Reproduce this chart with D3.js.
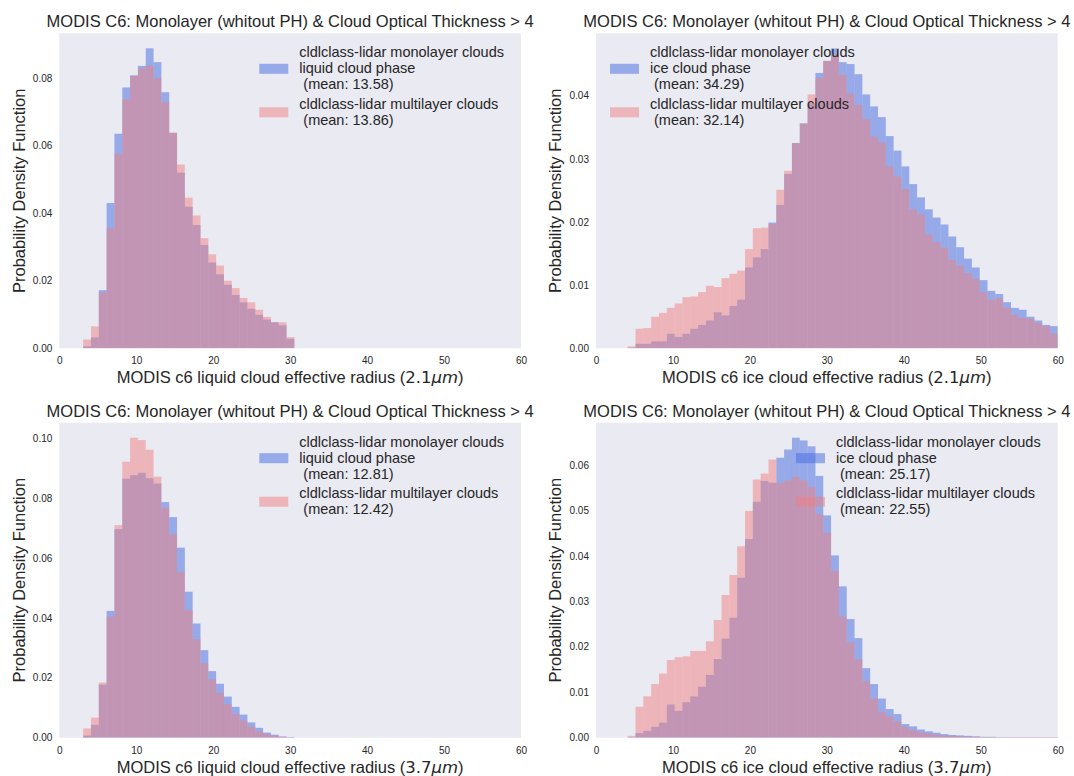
<!DOCTYPE html>
<html>
<head>
<meta charset="utf-8">
<script src="https://cdn.jsdelivr.net/npm/d3@7/dist/d3.min.js"></script>
<style>
  body { margin: 0; background: #fff; }
  svg { display: block; font-family: "Liberation Sans", Arial, sans-serif; }
  .legend text { white-space: pre; }
</style>
</head>
<body>
<div id="chart"></div>
<script>
// histograms of MODIS C6 effective radius, mono vs multilayer clouds

// bins (width ~1 µm)
const liquidBinStart = 3.1;
const iceBinStart = 4.12;
const binWidth = 1.0165;

// top-left : liquid, 2.1 µm
const liq21Mono = [0.0006, 0.0032, 0.0172, 0.0430, 0.0635, 0.0772, 0.0808, 0.0836, 0.0888, 0.0847,
  0.0758, 0.0637, 0.0520, 0.0419, 0.0365, 0.0306, 0.0254, 0.0219, 0.0188, 0.0158,
  0.0136, 0.0117, 0.0099, 0.0085, 0.0077, 0.0068, 0.0028];
const liq21Multi = [0.0026, 0.0065, 0.0165, 0.0355, 0.0576, 0.0737, 0.0806, 0.0828, 0.0837, 0.0800,
  0.0729, 0.0639, 0.0544, 0.0446, 0.0393, 0.0326, 0.0278, 0.0245, 0.0200, 0.0178,
  0.0149, 0.0136, 0.0114, 0.0093, 0.0077, 0.0077, 0.0033];

// top-right : ice, 2.1 µm
const ice21Mono = [0.0001, 0.0007, 0.0007, 0.0011, 0.0011, 0.0023, 0.0018, 0.0023, 0.0031, 0.0037,
  0.0044, 0.0057, 0.0052, 0.0067, 0.0077, 0.0128, 0.0144, 0.0157, 0.0199, 0.0227,
  0.0276, 0.0325, 0.0356, 0.0388, 0.0436, 0.0455, 0.0475, 0.0453, 0.0450, 0.0434,
  0.0402, 0.0383, 0.0366, 0.0336, 0.0313, 0.0288, 0.0260, 0.0239, 0.0220, 0.0207,
  0.0196, 0.0177, 0.0160, 0.0142, 0.0128, 0.0108, 0.0091, 0.0086, 0.0073, 0.0064,
  0.0061, 0.0050, 0.0044, 0.0037, 0.0035];
const ice21Multi = [0.0003, 0.0031, 0.0032, 0.0050, 0.0056, 0.0064, 0.0071, 0.0081, 0.0082, 0.0089,
  0.0099, 0.0097, 0.0111, 0.0118, 0.0123, 0.0157, 0.0190, 0.0191, 0.0197, 0.0251,
  0.0281, 0.0325, 0.0356, 0.0402, 0.0428, 0.0455, 0.0465, 0.0433, 0.0403, 0.0385,
  0.0363, 0.0335, 0.0326, 0.0288, 0.0272, 0.0252, 0.0220, 0.0212, 0.0180, 0.0168,
  0.0159, 0.0140, 0.0131, 0.0119, 0.0110, 0.0089, 0.0077, 0.0079, 0.0064, 0.0053,
  0.0048, 0.0047, 0.0040, 0.0035, 0.0024];

// bottom-left : liquid, 3.7 µm
const liq37Mono = [0.0007, 0.0043, 0.0177, 0.0423, 0.0696, 0.0864, 0.0876, 0.0884, 0.0866, 0.0848,
  0.0786, 0.0736, 0.0634, 0.0487, 0.0381, 0.0292, 0.0222, 0.0180, 0.0137, 0.0103,
  0.0077, 0.0051, 0.0033, 0.0017, 0.0010, 0.0004, 0.0002];
const liq37Multi = [0.0031, 0.0067, 0.0184, 0.0404, 0.0709, 0.0921, 0.1001, 0.0993, 0.0961, 0.0871,
  0.0768, 0.0679, 0.0552, 0.0426, 0.0329, 0.0248, 0.0194, 0.0150, 0.0112, 0.0079,
  0.0057, 0.0037, 0.0021, 0.0012, 0.0007, 0.0003, 0.0001];

// bottom-right : ice, 3.7 µm
const ice37Mono = [0.0001, 0.0010, 0.0015, 0.0024, 0.0033, 0.0073, 0.0059, 0.0078, 0.0091, 0.0112,
  0.0138, 0.0173, 0.0218, 0.0264, 0.0352, 0.0437, 0.0519, 0.0565, 0.0561, 0.0616,
  0.0634, 0.0660, 0.0654, 0.0641, 0.0576, 0.0489, 0.0401, 0.0333, 0.0261, 0.0219,
  0.0153, 0.0118, 0.0086, 0.0063, 0.0052, 0.0030, 0.0025, 0.0018, 0.0014, 0.0011,
  0.0008, 0.0006, 0.0005, 0.0004, 0.0003, 0.0002, 0.0002, 0.0001, 0.0001, 0.0001,
  0.0001, 0.0001, 0.0001, 0.0001, 0.0001];
const ice37Multi = [0.0004, 0.0068, 0.0091, 0.0118, 0.0141, 0.0171, 0.0177, 0.0179, 0.0191, 0.0191,
  0.0212, 0.0259, 0.0314, 0.0358, 0.0421, 0.0499, 0.0568, 0.0581, 0.0612, 0.0561,
  0.0566, 0.0574, 0.0566, 0.0552, 0.0492, 0.0451, 0.0367, 0.0266, 0.0210, 0.0172,
  0.0124, 0.0086, 0.0057, 0.0047, 0.0036, 0.0024, 0.0017, 0.0012, 0.0009, 0.0007,
  0.0005, 0.0004, 0.0003, 0.0002, 0.0002, 0.0001, 0.0001, 0.0001, 0.0001, 0.0001,
  0.0001, 0.0001, 0.0001, 0.0001, 0.0001];

// ticks
const xTicks = [0, 10, 20, 30, 40, 50, 60];
const yTicksLiq21 = [0, 0.02, 0.04, 0.06, 0.08];
const yTicksIce21 = [0, 0.01, 0.02, 0.03, 0.04];
const yTicksLiq37 = [0, 0.02, 0.04, 0.06, 0.08, 0.10];
const yTicksIce37 = [0, 0.01, 0.02, 0.03, 0.04, 0.05, 0.06];

// texts
const title = "MODIS C6: Monolayer (whitout PH) & Cloud Optical Thickness > 4";
const yLabel = "Probability Density Function";
const monoLabel = "cldlclass-lidar monolayer clouds";
const multiLabel = "cldlclass-lidar multilayer clouds";
const means = [["13.58", "13.86"], ["34.29", "32.14"], ["12.81", "12.42"], ["25.17", "22.55"]];

const width = 1074;
const height = 776;
const plotW = 461.7;
const plotH = 315;

const blue = "#4169E1";
const red = "#F08080";
const textColor = "#262626";

const panels = [
  { left: 59.3, top: 33.3, phase: "liquid", band: "2.1", start: liquidBinStart,
    mono: liq21Mono, multi: liq21Multi, yTicks: yTicksLiq21, means: means[0], legend: "right" },
  { left: 596, top: 33.3, phase: "ice", band: "2.1", start: iceBinStart,
    mono: ice21Mono, multi: ice21Multi, yTicks: yTicksIce21, means: means[1], legend: "left" },
  { left: 59.3, top: 422.7, phase: "liquid", band: "3.7", start: liquidBinStart,
    mono: liq37Mono, multi: liq37Multi, yTicks: yTicksLiq37, means: means[2], legend: "right" },
  { left: 596, top: 422.7, phase: "ice", band: "3.7", start: iceBinStart,
    mono: ice37Mono, multi: ice37Multi, yTicks: yTicksIce37, means: means[3], legend: "right" }
];

const svg = d3.select("#chart")
  .append("svg")
  .attr("width", width)
  .attr("height", height);

panels.forEach((p, idx) => drawPanel(p, idx));

function drawPanel(p, idx) {
  const g = svg.append("g").attr("transform", `translate(${p.left},${p.top})`);

  const x = d3.scaleLinear().domain([0, 60]).range([0, plotW]);
  const yMax = d3.max(p.mono.concat(p.multi)) * 1.05;
  const y = d3.scaleLinear().domain([0, yMax]).range([plotH, 0]);

  // fond seaborn
  g.append("rect")
    .attr("width", plotW)
    .attr("height", plotH)
    .attr("fill", "#EAEAF2");

  const clipId = "clip" + idx;
  g.append("clipPath").attr("id", clipId)
    .append("rect").attr("width", plotW).attr("height", plotH);

  const bars = g.append("g").attr("clip-path", `url(#${clipId})`);

  const toBins = vals => vals.map((v, i) => ({
    x0: p.start + i * binWidth,
    x1: p.start + (i + 1) * binWidth,
    value: v
  }));

  [[p.mono, blue], [p.multi, red]].forEach(([vals, color]) => {
    bars.append("g")
      .selectAll("rect")
      .data(toBins(vals))
      .join("rect")
      .attr("x", d => x(d.x0))
      .attr("width", d => x(d.x1) - x(d.x0))
      .attr("y", d => y(d.value))
      .attr("height", d => y(0) - y(d.value))
      .attr("fill", color)
      .attr("fill-opacity", 0.5);
  });

  // axes sans traits
  const xAxis = g.append("g")
    .attr("transform", `translate(0,${plotH})`)
    .call(d3.axisBottom(x).tickValues(xTicks).tickSize(0).tickPadding(9).tickFormat(d3.format("d")));
  const yAxis = g.append("g")
    .call(d3.axisLeft(y).tickValues(p.yTicks).tickSize(0).tickPadding(7).tickFormat(d3.format(".2f")));

  [xAxis, yAxis].forEach(a => {
    a.select(".domain").remove();
    a.selectAll("text")
      .attr("fill", textColor)
      .style("font-size", "10px")
      .style("font-family", '"Liberation Sans", Arial, sans-serif');
  });

  // titre
  g.append("text")
    .attr("x", plotW / 2)
    .attr("y", -6)
    .attr("text-anchor", "middle")
    .attr("fill", textColor)
    .style("font-size", "16.5px")
    .text(title);

  // label x avec mathtext
  const xl = g.append("text")
    .attr("x", plotW / 2)
    .attr("y", plotH + 35)
    .attr("text-anchor", "middle")
    .attr("fill", textColor)
    .style("font-size", "16.5px");
  xl.append("tspan").text(`MODIS c6 ${p.phase} cloud effective radius (`);
  xl.append("tspan").style("font-family", '"DejaVu Sans"').text(p.band);
  xl.append("tspan").style("font-family", '"DejaVu Sans"').style("font-style", "italic").text("μm");
  xl.append("tspan").text(")");

  g.append("text")
    .attr("transform", `translate(-34.7,${plotH / 2}) rotate(-90)`)
    .attr("text-anchor", "middle")
    .attr("fill", textColor)
    .style("font-size", "16.5px")
    .text(yLabel);

  drawLegend(g, p);
}

function drawLegend(g, p) {
  const entries = [
    { color: blue, lines: [monoLabel, `${p.phase} cloud phase`, ` (mean: ${p.means[0]})`] },
    { color: red, lines: [multiLabel, ` (mean: ${p.means[1]})`] }
  ];
  const lineH = 16;
  const entryGap = 19.5;
  const fontSize = 14.5;

  const leg = g.append("g").attr("class", "legend");

  // texte d'abord pour mesurer la largeur
  let cy = 18.7;
  const placed = entries.map(e => {
    const first = cy;
    const texts = e.lines.map((l, i) => leg.append("text")
      .attr("y", first + i * lineH + fontSize * 0.358)
      .attr("fill", textColor)
      .style("font-size", fontSize + "px")
      .text(l));
    const last = first + (e.lines.length - 1) * lineH;
    cy = last + entryGap;
    return { e, texts, mid: (first + last) / 2 + 0.8 };
  });

  let maxW = 0;
  placed.forEach(pl => pl.texts.forEach(t => {
    maxW = Math.max(maxW, t.node().getComputedTextLength());
  }));

  const textX = p.legend === "left" ? 54 : plotW - 17 - maxW;

  placed.forEach(pl => {
    pl.texts.forEach(t => t.attr("x", textX));
    leg.insert("rect", "text")
      .attr("x", textX - 40)
      .attr("y", pl.mid - 5)
      .attr("width", 29)
      .attr("height", 10)
      .attr("fill", pl.e.color)
      .attr("fill-opacity", 0.5);
  });
}
</script>
</body>
</html>
